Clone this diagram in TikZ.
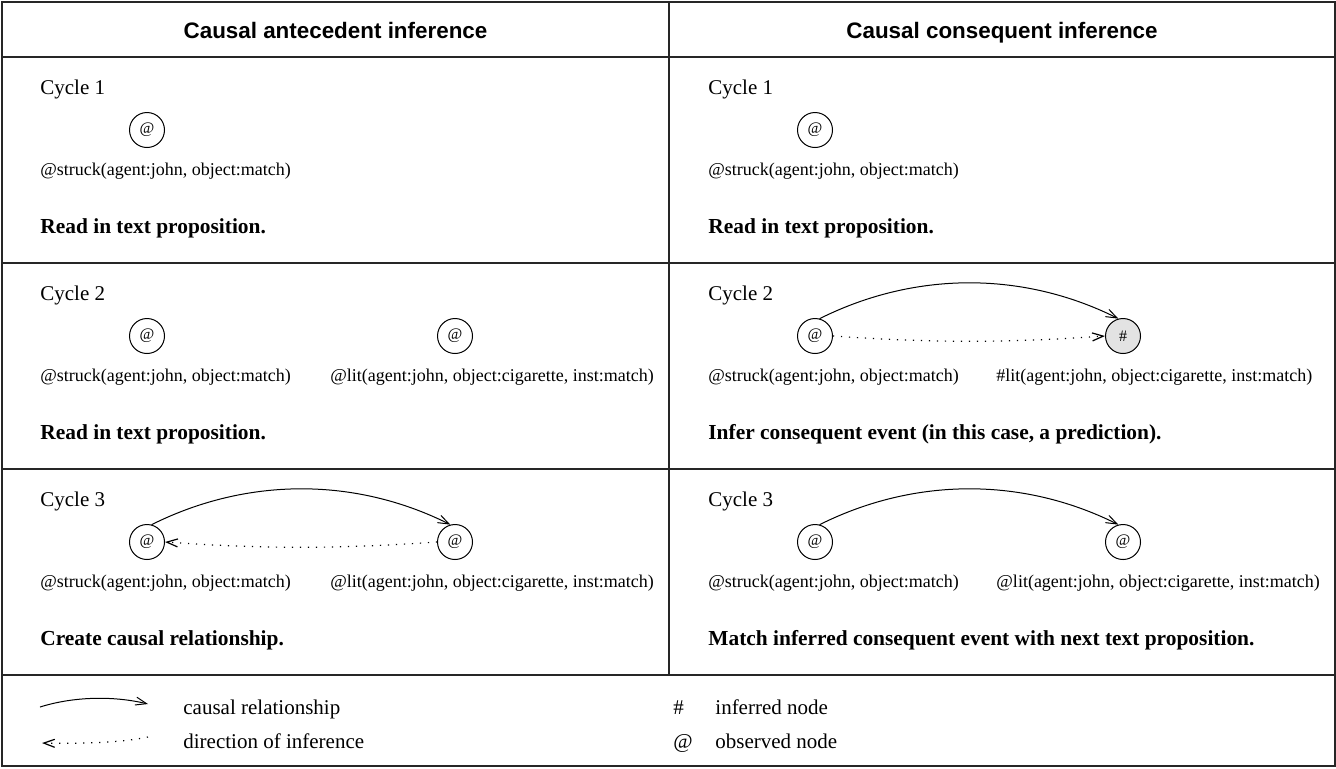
\documentclass[tikz,border=0pt]{standalone}
\usepackage{fontspec}
\setmainfont{Liberation Serif}
\setsansfont{Liberation Sans}
\usetikzlibrary{arrows.meta,calc}

\begin{document}
\begin{tikzpicture}[x=0.5pt,y=-0.5pt,
  frame/.style={line width=0.7pt, draw=black!85},
  obs/.style={circle, draw, line width=0.5pt, minimum size=17.5pt, inner sep=0pt,
              font=\fontsize{8}{9}\selectfont},
  inf/.style={obs, fill=black!11},
  head/.style={anchor=base, inner sep=0pt, font=\sffamily\bfseries\fontsize{11.2}{13}\selectfont},
  cyc/.style={anchor=base west, inner sep=0pt, font=\fontsize{10.5}{12}\selectfont},
  prop/.style={anchor=base west, inner sep=0pt, font=\fontsize{9}{11}\selectfont},
  note/.style={anchor=base west, inner sep=0pt, font=\bfseries\fontsize{10.7}{12}\selectfont},
  causal/.style={line width=0.5pt, -{Straight Barb[length=5.5pt,width=4pt]}},
  infer/.style={line width=0.6pt, dash pattern=on 0.6pt off 3.4pt,
                -{Straight Barb[length=5.5pt,width=4pt]}},
]
\useasboundingbox (0,0) rectangle (1336,768);

% table frame
\draw[frame] (2,2) rectangle (1335,766);
\draw[frame] (2,57) -- (1335,57);
\draw[frame] (2,263) -- (1335,263);
\draw[frame] (2,469) -- (1335,469);
\draw[frame] (2,675) -- (1335,675);
\draw[frame] (669,2) -- (669,675);

% column headings
\node[head] (hl) at (335.5,38) {Causal antecedent inference};
\node[head] (hr) at (1002,38) {Causal consequent inference};

% ---------- left column ----------
% cycle 1
\node[cyc] (lc1) at (40,94) {Cycle 1};
\node[obs] (l1a) at (147,130) {@};
\node[prop] (l1p) at (40,175) {@struck(agent:john, object:match)};
\node[note] (l1n) at (40,233) {Read in text proposition.};

% cycle 2
\node[cyc] (lc2) at (40,300) {Cycle 2};
\node[obs] (l2a) at (147,336) {@};
\node[obs] (l2b) at (455,336) {@};
\node[prop] (l2p) at (40,381) {@struck(agent:john, object:match)};
\node[prop] (l2q) at (330,381) {@lit(agent:john, object:cigarette, inst:match)};
\node[note] (l2n) at (40,439) {Read in text proposition.};

% cycle 3
\node[cyc] (lc3) at (40,506) {Cycle 3};
\node[obs] (l3a) at (147,542) {@};
\node[obs] (l3b) at (455,542) {@};
\node[prop] (l3p) at (40,587) {@struck(agent:john, object:match)};
\node[prop] (l3q) at (330,587) {@lit(agent:john, object:cigarette, inst:match)};
\node[note] (l3n) at (40,645) {Create causal relationship.};
\draw[causal] (l3a.75) .. controls ($(l3a)+(100,-65)$) and ($(l3b)+(-100,-65)$) .. (l3b.105);
\draw[infer] (l3b.west) .. controls ($(l3b.west)+(-100,7)$) and ($(l3a.east)+(100,7)$) .. (l3a.east);

% ---------- right column ----------
% cycle 1
\node[cyc] (rc1) at (708,94) {Cycle 1};
\node[obs] (r1a) at (815,130) {@};
\node[prop] (r1p) at (708,175) {@struck(agent:john, object:match)};
\node[note] (r1n) at (708,233) {Read in text proposition.};

% cycle 2
\node[cyc] (rc2) at (708,300) {Cycle 2};
\node[obs] (r2a) at (815,336) {@};
\node[inf] (r2b) at (1123,336) {\#};
\node[prop] (r2p) at (708,381) {@struck(agent:john, object:match)};
\node[prop] (r2q) at (996,381) {\#lit(agent:john, object:cigarette, inst:match)};
\node[note] (r2n) at (708,439) {Infer consequent event (in this case, a prediction).};
\draw[causal] (r2a.75) .. controls ($(r2a)+(100,-65)$) and ($(r2b)+(-100,-65)$) .. (r2b.105);
\draw[infer] (r2a.east) .. controls ($(r2a.east)+(100,7)$) and ($(r2b.west)+(-100,7)$) .. (r2b.west);

% cycle 3
\node[cyc] (rc3) at (708,506) {Cycle 3};
\node[obs] (r3a) at (815,542) {@};
\node[obs] (r3b) at (1123,542) {@};
\node[prop] (r3p) at (708,587) {@struck(agent:john, object:match)};
\node[prop] (r3q) at (996,587) {@lit(agent:john, object:cigarette, inst:match)};
\node[note] (r3n) at (708,645) {Match inferred consequent event with next text proposition.};
\draw[causal] (r3a.75) .. controls ($(r3a)+(100,-65)$) and ($(r3b)+(-100,-65)$) .. (r3b.105);

% ---------- legend ----------
\coordinate (ks) at (40,707);
\coordinate (ke) at (148,704);
\draw[causal] (ks) .. controls (75,696) and (115,696) .. (ke);
\node[cyc] (kt1) at (183,714) {causal relationship};

\coordinate (ds) at (148,737);
\coordinate (de) at (42,743);
\draw[infer] (ds) .. controls (125,742) and (85,744) .. (de);
\node[cyc] (kt2) at (183,748) {direction of inference};

\node[cyc] (ks1) at (673,714) {\#};
\node[cyc] (kt3) at (715,714) {inferred node};
\node[cyc] (ks2) at (673,748) {@};
\node[cyc] (kt4) at (715,748) {observed node};
\end{tikzpicture}
\end{document}
